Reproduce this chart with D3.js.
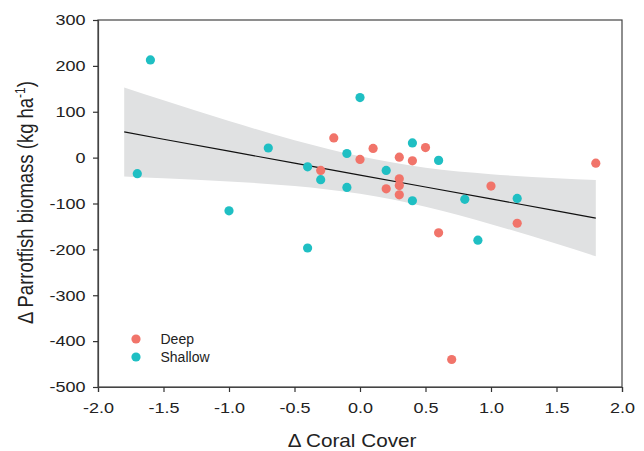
<!DOCTYPE html>
<html>
<head>
<meta charset="utf-8">
<script src="https://cdn.jsdelivr.net/npm/d3@7"></script>
<style>
  body { margin: 0; background: #fff; }
  text { font-family: "Liberation Sans", Arial, sans-serif; fill: #222; }
</style>
</head>
<body>
<div id="chart"></div>
<script>
// Deep sites
var deepX = [-0.3, -0.2, 0.0, 0.1, 0.2, 0.3, 0.3, 0.3, 0.3, 0.4, 0.5, 0.6, 0.7, 1.0, 1.2, 1.8];
var deepY = [-28, 43, -4, 20, -68, 1, -46, -61, -81, -7, 22, -164, -440, -62, -143, -12];

// Shallow sites
var shallowX = [-1.6, -1.7, -1.0, -0.7, -0.4, -0.4, -0.3, -0.1, -0.1, 0.0, 0.2, 0.4, 0.4, 0.6, 0.8, 0.9, 1.2];
var shallowY = [213, -35, -116, 21, -20, -197, -48, 9, -65, 131, -28, 32, -94, -6, -91, -180, -89];

// fitted line and confidence band
var fitX = [-1.8, -1.5, -1.0, -0.5, 0.0, 0.5, 1.0, 1.5, 1.8];
var fitY = [56, 40, 14, -12, -38, -64, -90, -116, -132];
var bandUpper = [153, 125, 80, 38, 3, -22, -36, -45, -49];
var bandLower = [-41, -45, -52, -62, -79, -107, -145, -188, -215];

var xTicks = [-2.0, -1.5, -1.0, -0.5, 0.0, 0.5, 1.0, 1.5, 2.0];
var yTicks = [300, 200, 100, 0, -100, -200, -300, -400, -500];

var groups = ["Deep", "Shallow"];
var colors = ["#F1746A", "#1FBFC3"];

var margin = { top: 20, right: 22, bottom: 64, left: 98 },
  width = 644 - margin.left - margin.right,
  height = 451 - margin.top - margin.bottom;

// the reference text is a bit wide, stretch it horizontally
var stretch = 1.2;

var svg = d3
  .select("#chart")
  .append("svg")
  .attr("width", 644)
  .attr("height", 451)
  .append("g")
  .attr("transform", "translate(" + margin.left + "," + margin.top + ")");

var x = d3.scaleLinear().domain([-2, 2]).range([0, width]);
var y = d3.scaleLinear().domain([-500, 300]).range([height, 0]);

// confidence band
var band = fitX.map(function (d, i) {
  return { x: d, lo: bandLower[i], hi: bandUpper[i] };
});
svg
  .append("path")
  .datum(band)
  .attr("fill", "#E0E1E2")
  .attr(
    "d",
    d3
      .area()
      .curve(d3.curveMonotoneX)
      .x(function (d) { return x(d.x); })
      .y0(function (d) { return y(d.lo); })
      .y1(function (d) { return y(d.hi); })
  );

// regression line
svg
  .append("path")
  .datum(fitX.map(function (d, i) { return [d, fitY[i]]; }))
  .attr("fill", "none")
  .attr("stroke", "#111")
  .attr("stroke-width", 1.2)
  .attr(
    "d",
    d3.line()
      .x(function (d) { return x(d[0]); })
      .y(function (d) { return y(d[1]); })
  );

// points
var series = [
  { name: "Deep", xs: deepX, ys: deepY, color: colors[0] },
  { name: "Shallow", xs: shallowX, ys: shallowY, color: colors[1] }
];
series.forEach(function (s) {
  svg
    .selectAll(".pt-" + s.name)
    .data(s.xs.map(function (d, i) { return [d, s.ys[i]]; }))
    .enter()
    .append("circle")
    .attr("cx", function (d) { return x(d[0]); })
    .attr("cy", function (d) { return y(d[1]); })
    .attr("r", 4.6)
    .attr("fill", s.color);
});

// box
svg
  .append("rect")
  .attr("width", width)
  .attr("height", height)
  .attr("fill", "none")
  .attr("stroke", "#444")
  .attr("stroke-width", 1.2);

// axes
var xAxis = svg
  .append("g")
  .attr("transform", "translate(0," + height + ")")
  .call(
    d3.axisBottom(x).tickValues(xTicks).tickSize(5).tickPadding(10)
      .tickFormat(function (d) { return d.toFixed(1); })
  );
var yAxis = svg
  .append("g")
  .call(
    d3.axisLeft(y).tickValues(yTicks).tickSize(5)
      .tickFormat(function (d) { return String(d); })
  );

[xAxis, yAxis].forEach(function (a) {
  a.select(".domain").attr("stroke", "#444").attr("stroke-width", 1.2);
  a.selectAll(".tick line").attr("stroke", "#333").attr("stroke-width", 1.2);
  a.selectAll("text")
    .style("font-family", "Liberation Sans, Arial, sans-serif")
    .style("font-size", "15px")
    .attr("fill", "#222");
});
xAxis.selectAll(".tick text").attr("transform", "scale(" + stretch + ",1)");
yAxis.selectAll(".tick text")
  .attr("x", 0)
  .attr("transform", "translate(-12.5,0) scale(" + stretch + ",1)");

// axis titles
svg
  .append("text")
  .attr("text-anchor", "middle")
  .attr("transform", "translate(" + (width / 2 - 8) + "," + (height + 60) + ") scale(1.15,1)")
  .style("font-size", "18px")
  .text("\u0394 Coral Cover");

var yt = svg
  .append("text")
  .attr("transform", "translate(" + (-65) + "," + (height / 2 - 1) + ") scale(1.15,1) rotate(-90)")
  .attr("text-anchor", "middle")
  .style("font-size", "18.5px");
yt.append("tspan").text("\u0394 Parrotfish biomass (kg ha");
yt.append("tspan").attr("dy", -7).style("font-size", "12px").text("-1");
yt.append("tspan").attr("dy", 7).text(")");

// legend
var legend = svg
  .selectAll(".legend")
  .data(groups)
  .enter()
  .append("g")
  .attr("transform", function (d, i) {
    return "translate(38," + (319 + i * 18) + ")";
  });
legend
  .append("circle")
  .attr("r", 4.6)
  .attr("fill", function (d, i) { return colors[i]; });
legend
  .append("text")
  .attr("x", 24.5)
  .attr("y", 5.3)
  .style("font-size", "14px")
  .text(function (d) { return d; });
</script>
</body>
</html>
